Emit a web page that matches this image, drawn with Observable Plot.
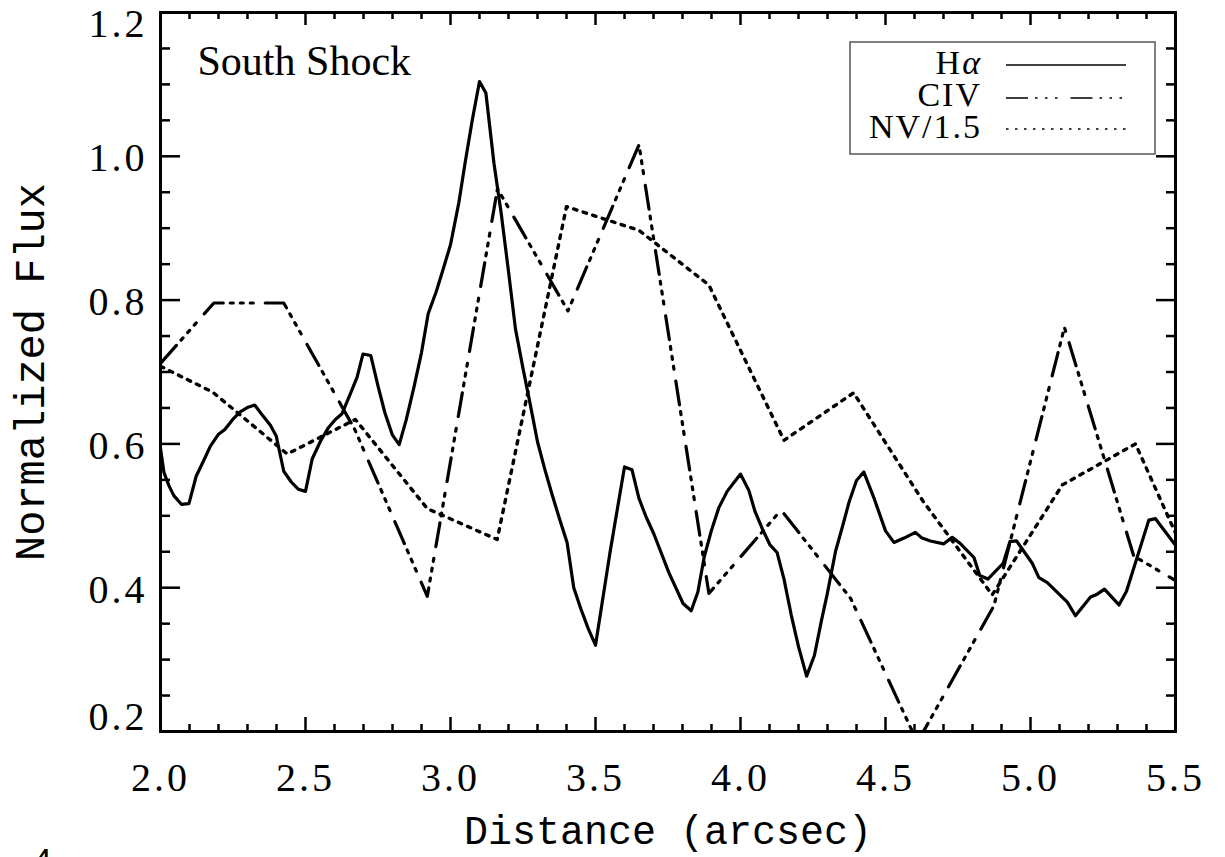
<!DOCTYPE html>
<html><head><meta charset="utf-8">
<script src="https://cdn.jsdelivr.net/npm/d3@7"></script>
<script src="https://cdn.jsdelivr.net/npm/@observablehq/plot@0.6"></script>
<style>
html,body{margin:0;padding:0;background:#fff;overflow:hidden}
#wrap{position:relative;width:1225px;height:857px}
#wrap svg{display:block}
#overlay{position:absolute;left:0;top:0;pointer-events:none}
g[aria-label="x-axis tick label"] text, g[aria-label="y-axis tick label"] text{letter-spacing:3px}
</style></head><body><div id="wrap"></div>
<script>
// H-alpha profile
const haDistance = [2.000,2.012,2.029,2.046,2.072,2.098,2.123,2.149,2.172,2.199,2.222,2.249,2.276,2.302,2.325,2.353,2.379,2.399,2.425,2.451,2.475,2.500,2.523,2.552,2.578,2.603,2.626,2.652,2.678,2.698,2.725,2.751,2.774,2.799,2.823,2.847,2.874,2.900,2.923,2.951,2.977,3.000,3.029,3.050,3.075,3.100,3.122,3.150,3.175,3.200,3.224,3.250,3.275,3.300,3.325,3.350,3.375,3.402,3.425,3.450,3.475,3.500,3.550,3.600,3.626,3.650,3.675,3.701,3.753,3.802,3.830,3.853,3.875,3.900,3.925,3.954,4.000,4.029,4.050,4.075,4.101,4.126,4.150,4.175,4.200,4.228,4.255,4.280,4.299,4.328,4.351,4.375,4.400,4.425,4.460,4.500,4.529,4.564,4.603,4.626,4.655,4.701,4.730,4.759,4.805,4.825,4.853,4.906,4.929,4.952,5.006,5.029,5.058,5.127,5.155,5.207,5.230,5.255,5.305,5.331,5.408,5.431,5.500];
const haFlux = [0.594,0.560,0.542,0.528,0.516,0.517,0.555,0.577,0.597,0.613,0.620,0.634,0.645,0.651,0.654,0.639,0.626,0.611,0.562,0.547,0.537,0.534,0.579,0.604,0.622,0.634,0.642,0.667,0.693,0.725,0.723,0.679,0.643,0.613,0.599,0.633,0.679,0.727,0.781,0.812,0.846,0.877,0.936,0.990,1.050,1.104,1.088,0.990,0.920,0.840,0.760,0.705,0.655,0.603,0.565,0.530,0.497,0.463,0.400,0.370,0.343,0.320,0.449,0.568,0.564,0.524,0.498,0.475,0.421,0.378,0.368,0.394,0.443,0.480,0.511,0.534,0.558,0.535,0.506,0.482,0.460,0.449,0.412,0.362,0.318,0.277,0.306,0.356,0.391,0.451,0.484,0.520,0.549,0.561,0.525,0.479,0.463,0.469,0.477,0.469,0.465,0.461,0.470,0.461,0.442,0.417,0.412,0.434,0.464,0.465,0.434,0.414,0.407,0.380,0.361,0.387,0.391,0.398,0.376,0.395,0.494,0.496,0.459];
// C IV profile
const civDistance = [2.000,2.184,2.425,2.670,2.920,3.162,3.405,3.650,3.891,4.140,4.380,4.610,4.874,5.117,5.356,5.500];
const civFlux = [0.712,0.796,0.796,0.620,0.388,0.955,0.785,1.016,0.392,0.508,0.385,0.185,0.375,0.762,0.444,0.410];
// N V / 1.5 profile
const nvDistance = [2.000,2.180,2.437,2.672,2.920,3.161,3.400,3.650,3.891,4.150,4.390,4.630,4.868,5.110,5.362,5.500];
const nvFlux = [0.708,0.672,0.586,0.634,0.510,0.467,0.930,0.897,0.821,0.605,0.671,0.520,0.390,0.543,0.600,0.476];

const xMajor = [2.0,2.5,3.0,3.5,4.0,4.5,5.0,5.5];
const xMinor = [2.1,2.2,2.3,2.4,2.6,2.7,2.8,2.9,3.1,3.2,3.3,3.4,3.6,3.7,3.8,3.9,4.1,4.2,4.3,4.4,4.6,4.7,4.8,4.9,5.1,5.2,5.3,5.4];
const yMajor = [0.2,0.4,0.6,0.8,1.0,1.2];
const yMinor = [0.25,0.3,0.35,0.45,0.5,0.55,0.65,0.7,0.75,0.85,0.9,0.95,1.05,1.1,1.15];
const yLabelsMid = [0.4,0.6,0.8,1.0];

const legendNames = ["H", "CIV", "NV/1.5"];
const xTitle = "Distance (arcsec)";
const yTitle = "Normalized Flux";
const panelTitle = "South Shock";

const toRows = (xs, ys) => xs.map((x, i) => ({x, y: ys[i]}));
const ha = toRows(haDistance, haFlux);
const civ = toRows(civDistance, civFlux);
const nv = toRows(nvDistance, nvFlux);

const fmt = d => d.toFixed(1);
const tickStyle = {fill: null, strokeWidth: 2.5, label: null};
const serif = "'Liberation Serif', 'Times New Roman', serif";
const mono = "'Liberation Mono', 'DejaVu Sans Mono', monospace";
const civDash = "24,7,3,7,3,7,3,12";
const nvDash = "3.5,6.5";

const chart = Plot.plot({
  width: 1225,
  height: 857,
  marginLeft: 160,
  marginRight: 50,
  marginTop: 12,
  marginBottom: 126,
  style: {background: "white", color: "black", fontFamily: serif, fontSize: "40px"},
  x: {domain: [2, 5.5]},
  y: {domain: [0.2, 1.2]},
  marks: [
    Plot.line(ha, {x: "x", y: "y", stroke: "black", strokeWidth: 3.2, clip: true}),
    Plot.line(civ, {x: "x", y: "y", stroke: "black", strokeWidth: 3.2, strokeDasharray: civDash, clip: true}),
    Plot.line(nv, {x: "x", y: "y", stroke: "black", strokeWidth: 3.4, strokeDasharray: nvDash, clip: true}),
    Plot.frame({stroke: "black", strokeWidth: 3}),
    // inward ticks on all four sides
    Plot.axisX(xMajor, {anchor: "bottom", tickSize: -14, ...tickStyle}),
    Plot.axisX(xMinor, {anchor: "bottom", tickSize: -7, ...tickStyle}),
    Plot.axisX(xMajor, {anchor: "top", tickSize: -12, ...tickStyle}),
    Plot.axisX(xMinor, {anchor: "top", tickSize: -6, ...tickStyle}),
    Plot.axisY(yMajor, {anchor: "left", tickSize: -20, ...tickStyle}),
    Plot.axisY(yMinor, {anchor: "left", tickSize: -10, ...tickStyle}),
    Plot.axisY(yMajor, {anchor: "right", tickSize: -20, ...tickStyle}),
    Plot.axisY(yMinor, {anchor: "right", tickSize: -10, ...tickStyle}),
    // tick labels
    Plot.axisX(xMajor, {anchor: "bottom", tickSize: 0, tickPadding: 31, tickFormat: fmt, label: null, fontSize: 40, fontFamily: serif}),
    Plot.axisY(yLabelsMid, {anchor: "left", tickSize: 0, tickPadding: 13, tickFormat: fmt, label: null, fontSize: 40, fontFamily: serif, dy: 2}),
    Plot.axisY([1.2], {anchor: "left", tickSize: 0, tickPadding: 13, tickFormat: fmt, label: null, fontSize: 40, fontFamily: serif, dy: 12}),
    Plot.axisY([0.2], {anchor: "left", tickSize: 0, tickPadding: 13, tickFormat: fmt, label: null, fontSize: 40, fontFamily: serif, dy: -14}),
    // titles
    Plot.text([xTitle], {text: d => d, frameAnchor: "bottom", textAnchor: "middle", dy: 100, fontFamily: mono, fontSize: 40, lineAnchor: "middle"}),
    Plot.text([yTitle], {text: d => d, frameAnchor: "left", textAnchor: "middle", rotate: -90, dx: -130, fontFamily: mono, fontSize: 42, lineAnchor: "middle"}),
    Plot.text([panelTitle], {text: d => d, frameAnchor: "top-left", textAnchor: "start", lineAnchor: "top", dx: 37, dy: 33, fontFamily: serif, fontSize: 42})
  ]
});

const wrap = document.getElementById("wrap");
wrap.appendChild(chart);

// Legend box (inside the plot area, top right) and figure number
const ov = d3.create("svg").attr("id", "overlay").attr("width", 1225).attr("height", 857);
const lg = ov.append("g");
lg.append("rect").attr("x", 850).attr("y", 42).attr("width", 305).attr("height", 112)
  .attr("fill", "white").attr("stroke", "#555").attr("stroke-width", 1.5);
const rowsY = [74, 106, 138];
const lineY = [65, 98, 129];
const dashes = [null, "22,7,2.5,7.5,2.5,7.5,2.5,13", "2.5,6.5"];
legendNames.forEach((name, i) => {
  const t = lg.append("text").attr("x", 982).attr("y", rowsY[i]).attr("text-anchor", "end")
    .attr("font-family", serif).attr("font-size", 34).style("letter-spacing", "2px");
  t.append("tspan").text(name);
  if (i === 0) t.append("tspan").attr("font-style", "italic").text("\u03b1");
  lg.append("line").attr("x1", 1006).attr("x2", 1126).attr("y1", lineY[i]).attr("y2", lineY[i])
    .attr("stroke", "black").attr("stroke-width", 1.5).attr("stroke-dasharray", dashes[i]);
});
ov.append("text").attr("x", 33).attr("y", 872).attr("font-family", "'Liberation Sans', Arial, sans-serif")
  .attr("font-size", 34).text("4");
wrap.appendChild(ov.node());
</script></body></html>
